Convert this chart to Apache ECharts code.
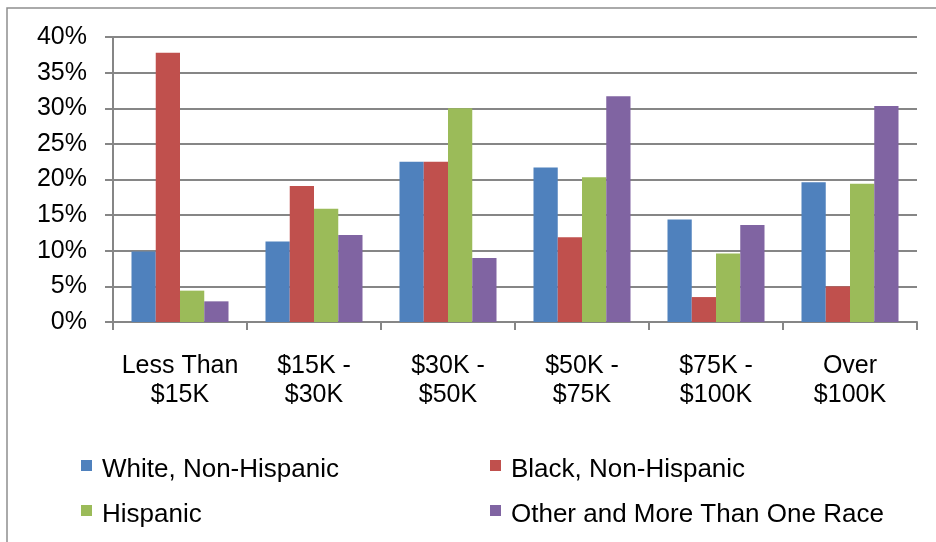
<!DOCTYPE html>
<html>
<head>
<meta charset="utf-8">
<script src="https://cdn.jsdelivr.net/npm/echarts@6/dist/echarts.min.js"></script>
<style>
html,body{margin:0;padding:0;background:#fff;}
#chart{width:936px;height:542px;}
</style>
</head>
<body>
<div id="chart"></div>
<script>
const categories = ['Less Than\n$15K', '$15K -\n$30K', '$30K -\n$50K', '$50K -\n$75K', '$75K -\n$100K', 'Over\n$100K'];
const seriesNames = ['White, Non-Hispanic', 'Black, Non-Hispanic', 'Hispanic', 'Other and More Than One Race'];
const white = [9.9, 11.3, 22.5, 21.7, 14.4, 19.6];
const black = [37.8, 19.1, 22.5, 11.9, 3.5, 5.0];
const hispanic = [4.4, 15.9, 30.0, 20.3, 9.6, 19.4];
const other = [2.9, 12.2, 9.0, 31.7, 13.6, 30.3];
const yTicks = { min: 0, max: 40, interval: 5 };

const colors = ['#4F81BD', '#C0504D', '#9BBB59', '#8064A2'];
const gridColor = '#868686';
const font = '"Liberation Sans", Arial, sans-serif';
const values = [white, black, hispanic, other];

const chart = echarts.init(document.getElementById('chart'), null, { renderer: 'canvas' });

const legendText = { color: '#000', fontFamily: font, fontSize: 26, lineHeight: 30, padding: [0, 0, 0, 5] };
const legendIcon = 'path://M0,0L11,0L11,11L0,11Z M0,20L0.01,20.01Z';

chart.setOption({
  animation: false,
  backgroundColor: '#fff',
  color: colors,
  graphic: [{
    type: 'rect',
    shape: { x: 7, y: 8, width: 960, height: 560 },
    style: { fill: 'none', stroke: '#8e8e8e', lineWidth: 1.5 },
    silent: true, z: -1
  }],
  grid: { left: 113, right: 19, top: 37, bottom: 220, containLabel: false },
  legend: [
    { data: [seriesNames[0], seriesNames[2]], orient: 'vertical', left: 76, top: 450, itemWidth: 11, itemHeight: 20, itemGap: 15, icon: legendIcon, textStyle: legendText, selectedMode: false },
    { data: [seriesNames[1], seriesNames[3]], orient: 'vertical', left: 485, top: 450, itemWidth: 11, itemHeight: 20, itemGap: 15, icon: legendIcon, textStyle: legendText, selectedMode: false }
  ],
  xAxis: {
    type: 'category',
    data: categories,
    axisLine: { lineStyle: { color: gridColor, width: 2 } },
    axisTick: { show: true, length: 8, lineStyle: { color: gridColor, width: 2 } },
    axisLabel: { color: '#000', fontFamily: font, fontSize: 25, lineHeight: 29, margin: 30, interval: 0 }
  },
  yAxis: {
    type: 'value',
    min: yTicks.min, max: yTicks.max, interval: yTicks.interval,
    axisLine: { show: true, lineStyle: { color: gridColor, width: 2 } },
    axisTick: { show: true, length: 8, lineStyle: { color: gridColor, width: 2 } },
    splitLine: { show: true, lineStyle: { color: gridColor, width: 2 } },
    axisLabel: { color: '#000', fontFamily: font, fontSize: 25, margin: 26, formatter: '{value}%' }
  },
  series: seriesNames.map((n, i) => ({
    name: n,
    type: 'bar',
    data: values[i],
    barGap: '0%',
    barCategoryGap: '27.6%',
    itemStyle: { color: colors[i] }
  }))
});
</script>
</body>
</html>
